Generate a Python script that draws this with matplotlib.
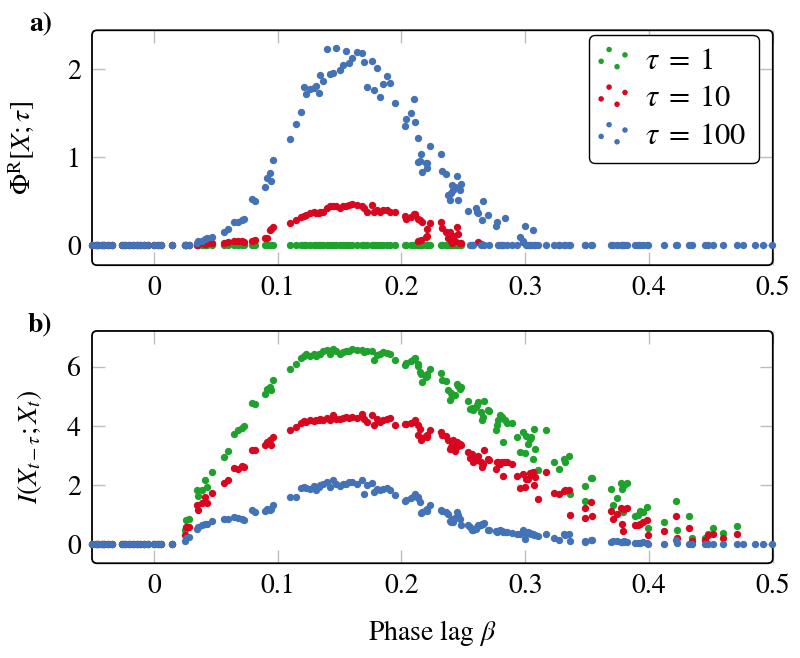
import numpy as np
import matplotlib
matplotlib.use("Agg")
import matplotlib.pyplot as plt
from matplotlib.patches import FancyBboxPatch
from matplotlib.collections import PathCollection
from matplotlib.legend_handler import HandlerPathCollection

na = np.nan

# phase lag values (shared by all series)
beta = [-0.050, -0.047, -0.045, -0.042, -0.040, -0.037, -0.034, -0.026, -0.023, -0.020,
        -0.017, -0.014, -0.011, -0.008, -0.005, 0.000, 0.003, 0.006, 0.015,
        0.025, 0.026, 0.028,
        0.035, 0.036, 0.039, 0.041, 0.043, 0.047,
        0.057, 0.060, 0.065, 0.068, 0.071, 0.073,
        0.079, 0.082, 0.090, 0.091, 0.094, 0.095, 0.096,
        0.110, 0.115,
        0.119, 0.121, 0.123, 0.126, 0.129, 0.131, 0.133, 0.134, 0.137, 0.140,
        0.142, 0.145, 0.147, 0.150, 0.153, 0.155, 0.158, 0.160, 0.164, 0.168,
        0.170, 0.172, 0.176, 0.178, 0.180, 0.183, 0.185, 0.188, 0.191, 0.195,
        0.203, 0.204, 0.208, 0.210, 0.211, 0.213, 0.213, 0.215, 0.216, 0.217, 0.220, 0.221, 0.221, 0.223,
        0.232, 0.233, 0.236, 0.238, 0.239, 0.240, 0.241, 0.242, 0.243, 0.245, 0.246, 0.247, 0.248,
        0.254, 0.255, 0.257, 0.258, 0.260, 0.261, 0.262, 0.264, 0.265, 0.266, 0.267, 0.270, 0.271,
        0.276, 0.277, 0.278, 0.280, 0.281, 0.282, 0.284, 0.285, 0.289, 0.293,
        0.296, 0.298, 0.300, 0.301, 0.302, 0.304, 0.305, 0.306, 0.307, 0.308, 0.310,
        0.317, 0.323, 0.327, 0.331, 0.332, 0.335, 0.336,
        0.348, 0.348, 0.353, 0.354,
        0.369, 0.371, 0.374, 0.377, 0.378, 0.379, 0.380, 0.382,
        0.389, 0.391, 0.393, 0.395, 0.398, 0.399,
        0.412, 0.422, 0.423, 0.432, 0.435,
        0.445, 0.448, 0.452, 0.460, 0.471,
        0.476, 0.486, 0.492, 0.499]

# panel a) Phi^R[X;tau]
phi_t1 = [0, 0, 0, 0, 0, 0, 0, 0, 0, 0, 0, 0, 0, 0, 0, 0, 0, 0, 0,
          0, 0, 0,
          0, 0, 0, 0, 0, 0,
          0, 0, 0, 0, 0, 0,
          0, 0, 0, 0, 0, 0, 0,
          0, 0,
          0, 0, 0, 0, 0, 0, 0, 0, 0, 0, 0, 0, 0, 0, 0,
          0, 0, 0, 0, 0, 0, 0, 0, 0, 0, 0, 0, 0, 0, 0,
          0, 0, 0, 0, 0, 0, 0, 0, 0, 0, 0, 0, 0, 0,
          0, 0, 0, 0, 0, 0, 0, 0, 0, 0, 0, 0, 0,
          na, na, na, na, na, na, na, na, na, na, na, na, na,
          na, na, na, na, na, na, na, na, na, na,
          na, na, na, na, na, na, na, na, na, na, na,
          na, na, na, na, na, na, na,
          na, na, na, na,
          na, na, na, na, na, na, na, na,
          na, na, na, na, na, na,
          na, na, na, na, na,
          na, na, na, na, na,
          na, na, na, na]
phi_t10 = [0, 0, 0, 0, 0, 0, 0, 0, 0, 0, 0, 0, 0, 0, 0, 0, 0, 0, 0,
           0, 0, 0,
           0.00, 0.01, 0.02, 0.01, 0.02, 0.02,
           0.02, 0.03, 0.04, 0.05, 0.05, 0.03,
           0.05, 0.06, 0.08, 0.08, 0.17, 0.18, 0.20,
           0.25, 0.28,
           0.32, 0.33, 0.34, 0.36, 0.37, 0.36, 0.36, 0.38, 0.38, 0.42,
           0.44, 0.44, 0.44, 0.42, 0.44, 0.44, 0.45, 0.47, 0.45, 0.44,
           0.42, 0.38, 0.45, 0.38, 0.40, 0.38, 0.40, 0.40, 0.37, 0.37,
           0.33, 0.30, 0.32, 0.35, 0.35, 0.30, 0.04, 0.28, 0.06, 0.26, 0.09, 0.18, 0.10, 0.25,
           0.26, 0.19, 0.15, 0.08, 0.15, 0.05, 0.02, 0.10, 0.04, 0.20, 0.13, 0.02, 0.02,
           na, na, na, na, na, na, 0.03, 0.01, na, na, na, na, na,
           na, na, na, na, na, na, na, na, na, na,
           na, 0.03, na, na, na, na, na, na, na, na, na,
           na, na, 0.00, na, na, na, na,
           na, na, na, na,
           na, na, na, na, na, na, na, na,
           na, na, na, na, na, na,
           na, na, na, na, na,
           na, na, na, na, na,
           na, na, na, na]
phi_t100 = [0, 0, 0, 0, 0, 0, 0, 0, 0, 0, 0, 0, 0, 0, 0, 0, 0, 0, 0,
            0, 0, 0,
            0.02, 0.04, 0.05, 0.07, 0.08, 0.09,
            0.15, 0.18, 0.26, 0.26, 0.28, 0.30,
            0.52, 0.50, 0.66, 0.76, 0.82, 0.73, 0.97,
            1.20, 1.38,
            1.51, 1.79, 1.71, 1.77, 1.78, 1.81, 1.73, 1.93, 1.86, 2.23,
            1.94, 1.95, 2.24, 1.99, 2.05, 2.20, 2.07, 2.12, 2.19, 2.18,
            2.08, 1.79, 2.09, 1.76, 2.01, 1.68, 1.83, 1.92, 1.84, 1.61,
            1.35, 1.43, 1.50, 1.66, 1.40, 1.21, 0.94, 0.95, 1.03, 0.83, 0.93, 0.88, 0.93, 1.13,
            1.03, 0.84, 0.81, 0.57, 0.51, 0.59, 0.68, 0.62, 0.66, 0.78, 0.51, 0.62, 0.69,
            0.39, 0, 0, 0, 0.42, 0.38, 0.36, 0, 0.28, 0.50, 0, 0.34, 0,
            0.22, 0.26, 0, 0, 0, 0, 0.31, 0, 0, 0,
            0.09, 0.05, 0.21, 0, 0, 0, 0, 0.17, 0, 0, 0,
            0, 0, 0, 0, 0, 0, 0,
            0, 0, 0, 0,
            0, 0, 0, 0, 0, 0, 0, 0,
            0, 0, 0, 0, 0, 0,
            0, 0, 0, 0, 0,
            0, 0, 0, 0, 0,
            0, 0, 0, 0]

# panel b) I(X_{t-tau};X_t)
mi_t1 = [0, 0, 0, 0, 0, 0, 0, 0, 0, 0, 0, 0, 0, 0, 0, 0, 0, 0, 0,
         0.50, 0.83, 0.86,
         1.82, 1.62, 1.85, 2.19, 1.94, 2.44,
         2.95, 3.15, 3.74, 3.85, 3.94, 3.99,
         4.77, 4.75, 5.09, 5.26, 5.31, 5.20, 5.56,
         5.93, 6.10,
         6.30, 6.38, 6.42, 6.38, 6.44, 6.35, 6.44, 6.44, 6.53, 6.58,
         6.44, 6.61, 6.53, 6.44, 6.50, 6.53, 6.55, 6.61, 6.58, 6.58,
         6.50, 6.55, 6.55, 6.22, 6.39, 6.44, 6.50, 6.47, 6.42, 6.24,
         6.05, 6.13, 6.20, 6.25, 6.31, 6.10, 6.01, 5.82, 5.77, 5.49, 5.66, 5.70, 5.75, 5.91,
         5.79, 5.54, 5.52, 5.20, 4.89, 5.11, 5.00, 5.05, 5.03, 5.43, 5.34, 5.26, 5.30,
         4.84, 4.58, 4.60, 4.53, 4.65, 4.70, 4.81, 4.47, 4.19, 4.30, 4.86, 4.53, 4.50,
         3.88, 4.02, 4.21, 4.36, 4.30, 3.46, 4.19, 4.10, 4.10, 3.63,
         3.12, 3.80, 3.07, 3.65, 3.40, 3.57, 3.63, 2.90, 3.91, 3.23, 2.50,
         3.88, 2.78, 2.56, 2.90, 2.78, 2.97, 1.69,
         1.96, 1.45, 2.25, 2.25,
         1.88, 1.34, 1.56, 2.07, 1.88, 1.09, 2.00, 2.07,
         0.96, 0.98, 1.13, 1.09, 1.26, 0.56,
         0.76, 1.45, 0.47, 0.95, 0.23,
         0.23, 0.34, 0.56, 0.38, 0.63,
         na, na, na, na]
mi_t10 = [0, 0, 0, 0, 0, 0, 0, 0, 0, 0, 0, 0, 0, 0, 0, 0, 0, 0, 0,
          0.32, 0.58, 0.60,
          1.32, 1.17, 1.38, 1.60, 1.38, 1.75,
          2.08, 2.17, 2.57, 2.54, 2.63, 2.61,
          3.18, 3.18, 3.35, 3.46, 3.52, 3.35, 3.63,
          3.88, 3.97,
          4.10, 4.17, 4.15, 4.19, 4.17, 4.21, 4.20, 4.25, 4.19, 4.28,
          4.21, 4.36, 4.25, 4.25, 4.28, 4.30, 4.28, 4.30, 4.28, 4.41,
          4.25, 4.13, 4.36, 4.02, 4.25, 4.13, 4.21, 4.25, 4.28, 4.04,
          4.05, 4.07, 4.10, 4.15, 4.19, 4.02, 3.70, 3.91, 3.51, 3.60, 3.65, 3.70, 3.62, 3.88,
          3.80, 3.70, 3.65, 3.51, 3.23, 3.29, 3.40, 3.51, 3.17, 3.46, 3.31, 3.40, 3.35,
          3.12, 2.93, 3.04, 2.78, 2.85, 2.95, 3.00, 2.78, 2.61, 2.70, 3.18, 2.90, 2.85,
          2.56, 2.78, 2.78, 2.70, 2.78, 2.30, 2.78, 2.78, 2.70, 2.30,
          1.92, 2.39, 1.94, 2.22, 2.20, 2.41, 2.35, 2.44, 2.00, 2.27, 1.54,
          2.44, 1.73, 1.69, 1.80, 1.83, 1.85, 1.00,
          1.23, 0.90, 1.43, 0.95,
          1.13, 0.84, 1.01, 1.24, 0.70, 0.45, 1.21, 1.24,
          0.64, 0.66, 0.68, 0.76, 0.81, 0.33,
          0.44, 0.96, 0.23, 0.56, 0.10,
          0.16, 0.30, 0.36, 0.23, 0.34,
          na, na, na, na]
mi_t100 = [0, 0, 0, 0, 0, 0, 0, 0, 0, 0, 0, 0, 0, 0, 0, 0, 0, 0, 0,
           0.12, 0.23, 0.26,
           0.52, 0.57, 0.64, 0.67, 0.70, 0.79,
           0.84, 0.84, 0.92, 0.89, 0.87, 0.81,
           1.15, 1.09, 1.13, 1.21, 1.15, 1.18, 1.32,
           1.60, 1.60,
           1.90, 1.95, 1.92, 1.88, 1.96, 1.85, 1.94, 2.00, 2.03, 2.10,
           1.94, 2.16, 2.03, 1.96, 2.05, 2.05, 2.10, 2.10, 2.05, 2.16,
           1.71, 2.00, 2.07, 1.77, 1.88, 1.82, 1.88, 1.92, 1.85, 1.66,
           1.45, 1.49, 1.55, 1.62, 1.69, 1.55, 1.60, 1.43, 1.06, 1.09, 1.15, 1.18, 1.12, 1.32,
           1.15, 1.12, 1.09, 1.04, 0.80, 0.76, 0.87, 0.76, 0.90, 1.09, 0.98, 0.87, 0.64,
           0.64, 0.60, 0.47, 0.50, 0.53, 0.58, 0.64, 0.66, 0.70, 0.68, 0.72, 0.47, 0.50,
           0.45, 0.42, 0.44, 0.47, 0.45, 0.42, 0.40, 0.40, 0.38, 0.34,
           0.36, 0.50, 0.19, 0.36, 0.40, 0.38, 0.36, 0.34, 0.32, 0.30, 0.28,
           0.34, 0.23, 0.16, 0.34, 0.30, 0.36, 0.11,
           0.11, 0.08, 0.14, 0.14,
           0.08, 0.10, 0.11, 0.08, 0.09, 0.08, 0.10, 0.08,
           0.04, 0.06, 0.05, 0.08, 0.06, 0.00,
           0.02, 0.14, 0.05, 0.02, 0.02,
           0, 0, 0, 0, 0,
           0, 0, 0, 0]

labels = [r"$\tau\;=\;1$", r"$\tau\;=\;10$", r"$\tau\;=\;100$"]
colors = ["#1ea22d", "#d8061e", "#4472b6"]
xticks = [0, 0.1, 0.2, 0.3, 0.4, 0.5]
xticklabels = ["0", "0.1", "0.2", "0.3", "0.4", "0.5"]

plt.rcParams.update({"font.family": "STIXGeneral", "mathtext.fontset": "stix", "font.size": 20})

fig = plt.figure(figsize=(8, 6.58), dpi=100)
ax1 = fig.add_axes([0.115, 0.597, 0.851, 0.357])
ax2 = fig.add_axes([0.115, 0.144, 0.851, 0.353])

panels = [(ax1, (phi_t1, phi_t10, phi_t100), (-0.23, 2.44), [0, 1, 2], r"$\Phi^{\mathrm{R}}[X;\tau]$", "a)", -0.080),
          (ax2, (mi_t1, mi_t10, mi_t100), (-0.64, 7.21), [0, 2, 4, 6], r"$I(X_{t-\tau};X_t)$", "b)", -0.070)]

for ax, ys, ylim, yt, ylab, tag, lx in panels:
    for y, c, l in zip(ys, colors, labels):
        ax.scatter(beta, y, s=28, c=c, linewidths=0, label=l, zorder=3, clip_on=False)
    ax.set_xlim(-0.05, 0.5)
    ax.set_ylim(*ylim)
    ax.set_xticks(xticks)
    ax.set_xticklabels(xticklabels)
    ax.set_yticks(yt)
    ax.tick_params(direction="in", length=9.5, width=1, color="#bdbdbd", top=True, right=True,
                   pad=8, labelsize=20)
    for s in ax.spines.values():
        s.set_visible(False)
    bb = ax.get_position()
    asp = (bb.height * 6.58) / (bb.width * 8)
    ax.add_patch(FancyBboxPatch((0, 0), 1, 1, boxstyle="round,pad=0,rounding_size=0.0075",
                                mutation_aspect=1 / asp, transform=ax.transAxes, fill=False,
                                ec="black", lw=1.3, clip_on=False, zorder=2.5))
    ax.set_ylabel(ylab, fontsize=20)
    ax.yaxis.set_label_coords(lx, 0.5)
    ax.text(-0.076, 1.0, tag, transform=ax.transAxes, ha="center", va="baseline",
            fontsize=20, fontweight="bold")

ax2.set_xlabel(r"Phase lag $\beta$", fontsize=20)
ax2.xaxis.set_label_coords(0.5, -0.237)

hmap = {PathCollection: HandlerPathCollection(numpoints=4, yoffsets=[0.35, 0.9, 0.1, 0.65],
                                              marker_pad=0)}
leg = ax1.legend(loc="upper right", bbox_to_anchor=(0.979, 0.979), borderaxespad=0,
                 handler_map=hmap, markerscale=0.75,
                 fancybox=True, framealpha=1, edgecolor="black", handlelength=0.78,
                 handleheight=0.7, handletextpad=0.65, labelspacing=0.3, borderpad=0.4,
                 fontsize=22)
leg.get_frame().set_linewidth(1.0)

fig.savefig("out.png", dpi=100)
